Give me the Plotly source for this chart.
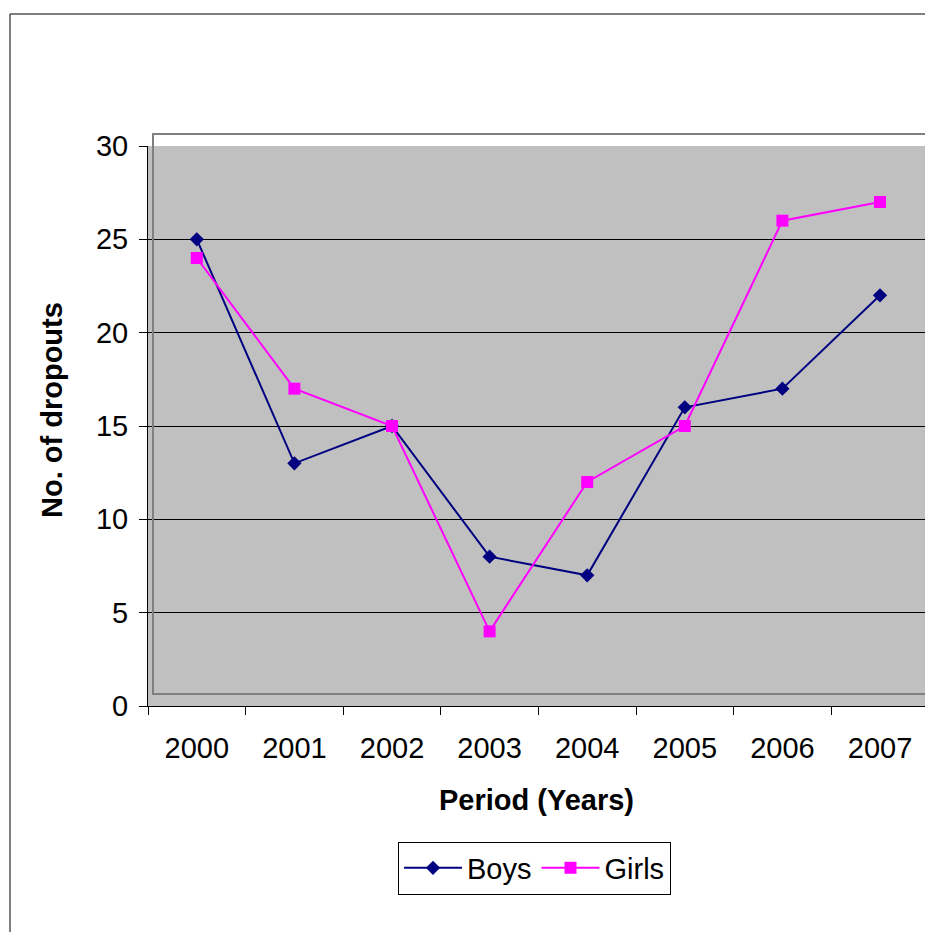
import plotly.graph_objects as go

# Dropout counts per year
years = ["2000", "2001", "2002", "2003", "2004", "2005", "2006", "2007"]
boys = [25, 13, 15, 8, 7, 16, 17, 22]
girls = [24, 17, 15, 4, 12, 15, 26, 27]
y_ticks = [0, 5, 10, 15, 20, 25, 30]

FONT = "Arial, Liberation Sans, sans-serif"
W, H = 925, 932
L, T, B = 148, 146, 226
PW, PH = W - L, H - T - B


def px_x(x):
    return (x - L) / PW


def px_y(y):
    return (H - B - y) / PH


fig = go.Figure()
fig.add_trace(go.Scatter(
    x=years, y=boys, name="Boys", mode="lines+markers",
    line=dict(color="#000080", width=2),
    marker=dict(symbol="diamond", size=11, color="#000080"),
))
fig.add_trace(go.Scatter(
    x=years, y=girls, name="Girls", mode="lines+markers",
    line=dict(color="#FF00FF", width=2),
    marker=dict(symbol="square", size=12, color="#FF00FF"),
))

# category band of ~97.6 px; axis continues slightly past the right edge
band = 97.6
x_hi = len(years) - 0.5 - (L + band * len(years) - W) / band

fig.update_layout(
    width=W, height=H,
    margin=dict(l=L, r=0, t=T, b=B),
    paper_bgcolor="white",
    plot_bgcolor="#C0C0C0",
    font=dict(family=FONT, size=29, color="black"),
    showlegend=True,
    legend=dict(
        orientation="h",
        x=px_x(534.5), xanchor="center",
        y=px_y(868), yanchor="middle",
        bordercolor="black", borderwidth=1, bgcolor="white",
        font=dict(size=29), itemwidth=58,
    ),
    xaxis=dict(
        type="category", range=[-0.5, x_hi],
        showgrid=False, showline=True, linecolor="black", linewidth=1,
        ticks="outside", tickson="boundaries", ticklen=8, tickcolor="black",
        tickfont=dict(size=29), ticklabelstandoff=16, zeroline=False,
    ),
    yaxis=dict(
        range=[0, 30], tickvals=y_ticks,
        showgrid=True, gridcolor="black", gridwidth=1,
        showline=True, linecolor="black", linewidth=1,
        ticks="outside", ticklen=8, tickcolor="black",
        tickfont=dict(size=29), ticklabelstandoff=5, zeroline=False,
    ),
    shapes=[
        # outer chart frame
        dict(type="rect", xref="paper", yref="paper",
             x0=px_x(10), x1=1.2, y0=-0.6, y1=px_y(14),
             line=dict(color="black", width=1), fillcolor="rgba(0,0,0,0)",
             layer="above"),
        # back wall outline
        dict(type="rect", xref="paper", yref="paper",
             x0=px_x(153), x1=1.2, y0=px_y(694), y1=px_y(134),
             line=dict(color="#808080", width=2), fillcolor="rgba(0,0,0,0)",
             layer="above"),
    ],
    annotations=[
        dict(text="<b>Period (Years)</b>", xref="paper", yref="paper",
             x=px_x(536.5), y=px_y(800), xanchor="center", yanchor="middle",
             showarrow=False, font=dict(size=29)),
        dict(text="<b>No. of dropouts</b>", xref="paper", yref="paper",
             x=px_x(52), y=px_y(410), xanchor="center", yanchor="middle",
             textangle=-90, showarrow=False, font=dict(size=29)),
    ],
)

fig.write_html("out.html")
